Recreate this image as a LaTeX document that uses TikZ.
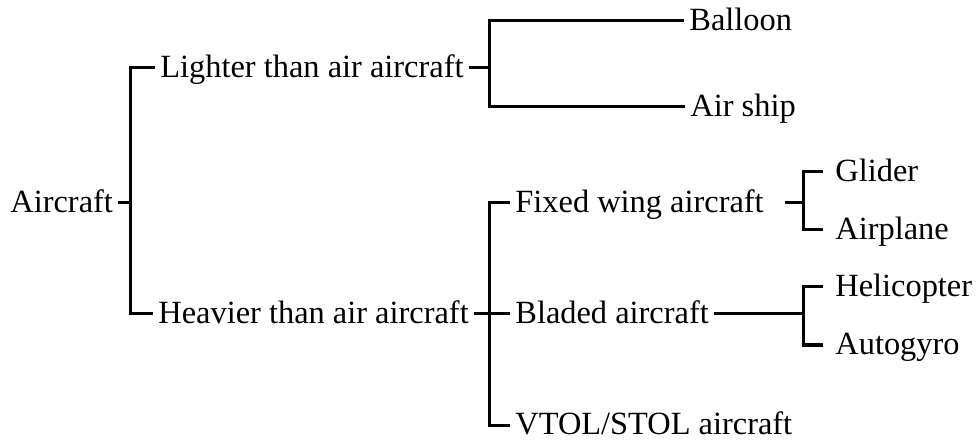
\documentclass[tikz,border=0pt]{standalone}
\usepackage{fontspec}
\setmainfont{Liberation Serif}
\tikzset{
  item/.style={anchor=west, inner xsep=2.5pt, inner ysep=0pt,
    text height=12pt, text depth=2.5pt,
    font=\fontsize{16.2}{19}\selectfont},
  leaf/.style={item, inner xsep=6pt},
  branch/.style={line width=1.5pt},
}
\begin{document}
\begin{tikzpicture}[x=0.5pt,y=-0.5pt]
\useasboundingbox (0,0) rectangle (980,443);

% Root
\node[item] (aircraft) at (5,203) {Aircraft};

% First level
\node[item] (lighter) at (155,68) {Lighter than air aircraft};
\node[item] (heavier) at (153,314) {Heavier than air aircraft};

% Second level
\node[item] (balloon) at (684,21) {Balloon};
\node[item] (airship) at (685,107) {Air ship};
\node[item] (fixed) at (510,203) {Fixed wing aircraft};
\node[item] (bladed) at (510,314) {Bladed aircraft};
\node[item] (vtol) at (510,425) {VTOL/STOL aircraft};

% Third level
\node[leaf] (glider) at (823,172) {Glider};
\node[leaf] (airplane) at (823,230) {Airplane};
\node[leaf] (heli) at (823,287) {Helicopter};
\node[leaf] (gyro) at (823,345) {Autogyro};

% Junctions
\coordinate (j1) at (130,203);
\coordinate (j2) at (489,68);
\coordinate (j3) at (489,314);
\coordinate (j4) at (803,203);
\coordinate (j5) at (803,314);

% Brackets
\draw[branch] (aircraft.east) -- (j1);
\draw[branch] (lighter.west) -| (j1) |- (heavier.west);
\draw[branch] (lighter.east) -- (j2);
\draw[branch] (balloon.west) -| (j2) |- (airship.west);
\draw[branch] (heavier.east) -- (bladed.west);
\draw[branch] (fixed.west) -| (j3) |- (vtol.west);
\draw[branch] ([xshift=8pt]fixed.east) -- (j4);
\draw[branch] (glider.west) -| (j4) |- (airplane.west);
\draw[branch] (bladed.east) -- (j5);
\draw[branch] (heli.west) -| (j5) |- (gyro.west);

\end{tikzpicture}
\end{document}
